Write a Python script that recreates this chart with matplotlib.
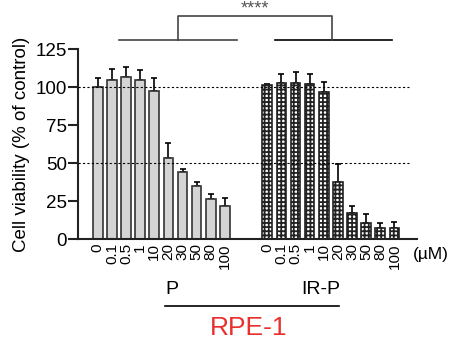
import numpy as np
import matplotlib
matplotlib.use('Agg')
import matplotlib.pyplot as plt
from matplotlib.lines import Line2D

plt.rcParams['font.family'] = ['Liberation Sans', 'DejaVu Sans']
plt.rcParams['hatch.linewidth'] = 1.3

doses = ['0', '0.1', '0.5', '1', '10', '20', '30', '50', '80', '100']
p_mean = [100, 104.4, 106.6, 104.8, 97.6, 53.3, 43.8, 34.6, 26.2, 22.0]
p_err = [5.7, 7.5, 6.8, 6.4, 8.6, 9.7, 2.2, 2.8, 3.1, 4.9]
irp_mean = [101, 102.9, 102.9, 102.2, 96.7, 37.4, 17.4, 10.4, 7.0, 7.5]
irp_err = [0.8, 5.5, 7.1, 6.2, 6.8, 11.9, 4.6, 5.9, 3.4, 3.5]

fig = plt.figure(figsize=(4.52, 3.45), dpi=100)
ax = fig.add_axes([78 / 452, 1 - 239 / 345, 339 / 452, 190 / 345])

x_p = np.arange(len(doses))
x_irp = x_p + 12
w = 0.68

ax.bar(x_p, p_mean, w, color='#d4d4d4', edgecolor='#333333', linewidth=1.2, zorder=2)
ax.errorbar(x_p, p_mean, yerr=[np.zeros(len(p_err)), p_err], fmt='none',
            ecolor='black', elinewidth=1.2, capsize=2.5, capthick=1.2, zorder=1)

ax.bar(x_irp, irp_mean, w, color='white', edgecolor='#222222', hatch='++++',
       linewidth=0, zorder=2)
ax.bar(x_irp, irp_mean, w, fill=False, edgecolor='#222222', linewidth=1.2, zorder=3)
ax.errorbar(x_irp, irp_mean, yerr=[np.zeros(len(irp_err)), irp_err], fmt='none',
            ecolor='black', elinewidth=1.2, capsize=2.5, capthick=1.2, zorder=1)

for yy in [100, 50]:
    ax.plot([-1.4, 22.0], [yy, yy], color='black', lw=0.8,
            linestyle=(0, (2, 2)), zorder=4)

ax.set_xlim(-1.4, 22.6)
ax.set_ylim(0, 125)
ax.set_yticks([0, 25, 50, 75, 100, 125])
ax.set_xticks(list(x_p) + list(x_irp))
ax.set_xticklabels(doses + doses, rotation=90, fontsize=11)
ax.tick_params(axis='x', length=0, pad=3)
ax.tick_params(axis='y', labelsize=13.5, width=1.5, length=7, pad=1, color='#222222')
for s in ['top', 'right']:
    ax.spines[s].set_visible(False)
for s in ['left', 'bottom']:
    ax.spines[s].set_linewidth(1.5)
    ax.spines[s].set_color('#222222')
ax.set_ylabel('Cell viability (% of control)', fontsize=13.5, labelpad=4)

# significance bracket
kw = dict(color='#444444', lw=1.2, clip_on=False)
ax.plot([1.5, 9.86], [131, 131], **kw)
ax.plot([12.55, 20.83], [131, 131], color='black', lw=1.2, clip_on=False)
ax.plot([5.68, 5.68, 16.58, 16.58], [131, 146.7, 146.7, 131], **kw)
ax.text(11.13, 146.0, '****', ha='center', va='bottom', fontsize=13, color='#555555')

fig.text(413 / 452, 1 - 255 / 345, '(\u00b5M)', fontsize=12.5, ha='left', va='center')
fig.text(172 / 452, 1 - 289 / 345, 'P', fontsize=14, ha='center', va='center')
fig.text(321 / 452, 1 - 289 / 345, 'IR-P', fontsize=14, ha='center', va='center')
fig.add_artist(Line2D([165 / 452, 339 / 452], [1 - 306 / 345, 1 - 306 / 345],
                      color='black', lw=1.2))
fig.text(249 / 452, 1 - 328 / 345, 'RPE-1', fontsize=19, color='#e8302e',
         ha='center', va='center')

fig.savefig('out.png', dpi=100)
